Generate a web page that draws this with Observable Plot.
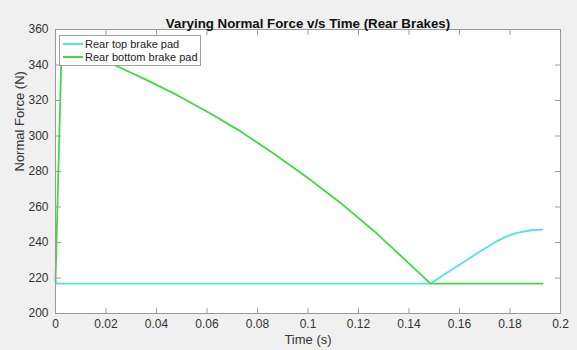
<!DOCTYPE html>
<html>
<head>
<meta charset="utf-8">
<script src="https://cdn.jsdelivr.net/npm/d3@7"></script>
<script src="https://cdn.jsdelivr.net/npm/@observablehq/plot@0.6"></script>
<style>
  html, body { margin: 0; padding: 0; background: #f0f0f0; }
  #wrap { position: relative; width: 577px; height: 350px; font-family: "Liberation Sans", Arial, sans-serif; }
  #legend {
    position: absolute; left: 59px; top: 35px; width: 140px; height: 29px;
    background: #fff; border: 1px solid #a0a0a0; font-size: 11px; color: #222;
  }
  #legend .row { position: absolute; left: 3px; height: 13px; line-height: 13px; white-space: nowrap; }
  #legend .swatch { display: inline-block; width: 20px; height: 0; border-top: 2px solid; vertical-align: middle; margin-right: 2px; position: relative; top: -1px; }
</style>
</head>
<body>
<div id="wrap">
  <div id="chart"></div>
  <div id="legend"></div>
</div>
<script>
// Time (s) and normal force (N) for each brake pad
const topPadTime  = [0, 0.0006, 0.1485, 0.155, 0.1617, 0.168, 0.1749, 0.1785, 0.1815, 0.1842, 0.1885, 0.1929];
const topPadForce = [218.3, 216.8, 216.8, 222.9, 229.0, 234.8, 240.8, 243.3, 244.9, 245.9, 246.9, 247.3];

const bottomPadTime  = [0, 0.00226, 0.0026, 0.012, 0.0238, 0.036, 0.0482, 0.061, 0.0733, 0.0865, 0.0997, 0.1129, 0.1261, 0.1366, 0.1485, 0.1929];
const bottomPadForce = [218.3, 340.8, 349.5, 345.6, 339.7, 331.6, 323.0, 313.0, 302.6, 290.0, 276.6, 262.3, 246.5, 232.7, 216.8, 216.8];

const seriesNames = ["Rear top brake pad", "Rear bottom brake pad"];
const seriesColors = ["#4fe6e2", "#3fdc3f"];

const xTicks = [0, 0.02, 0.04, 0.06, 0.08, 0.1, 0.12, 0.14, 0.16, 0.18, 0.2];
const xTickLabels = ["0", "0.02", "0.04", "0.06", "0.08", "0.1", "0.12", "0.14", "0.16", "0.18", "0.2"];
const yTicks = [200, 220, 240, 260, 280, 300, 320, 340, 360];
const yTickLabels = ["200", "220", "240", "260", "280", "300", "320", "340", "360"];

const titleText = "Varying Normal Force v/s Time (Rear Brakes)";
const xLabel = "Time (s)";
const yLabel = "Normal Force (N)";

const topPad = topPadTime.map((t, i) => ({t, f: topPadForce[i]}));
const bottomPad = bottomPadTime.map((t, i) => ({t, f: bottomPadForce[i]}));

// inward tick marks drawn as short vectors
const tickShape = {draw(ctx, l) { ctx.moveTo(0, 0); ctx.lineTo(0, -l); }};
const tickStyle = {length: 5, anchor: "start", shape: tickShape, stroke: "#9a9a9a", strokeWidth: 1};
const axisGrey = "#9a9a9a";

const chart = Plot.plot({
  width: 577,
  height: 350,
  marginLeft: 55,
  marginRight: 17,
  marginTop: 29,
  marginBottom: 37,
  style: {background: "#f0f0f0", fontFamily: "Liberation Sans, Arial, sans-serif"},
  x: {domain: [0, 0.2]},
  y: {domain: [200, 360]},
  marks: [
    Plot.frame({fill: "white", stroke: null}),
    Plot.line(topPad, {x: "t", y: "f", stroke: seriesColors[0], strokeWidth: 1.8}),
    Plot.line(bottomPad, {x: "t", y: "f", stroke: seriesColors[1], strokeWidth: 1.8}),
    Plot.frame({stroke: axisGrey}),
    Plot.vector(xTicks, {x: d => d, frameAnchor: "bottom", rotate: 0, ...tickStyle}),
    Plot.vector(xTicks, {x: d => d, frameAnchor: "top", rotate: 180, ...tickStyle}),
    Plot.vector(yTicks, {y: d => d, frameAnchor: "left", rotate: 90, ...tickStyle}),
    Plot.vector(yTicks, {y: d => d, frameAnchor: "right", rotate: -90, ...tickStyle}),
    Plot.axisX(xTicks, {
      tickSize: 0, tickPadding: 6, fontSize: 12, color: "#333", label: null,
      tickFormat: d => xTickLabels[xTicks.indexOf(d)]
    }),
    Plot.axisY(yTicks, {
      tickSize: 0, tickPadding: 7, fontSize: 12, color: "#333", label: null,
      tickFormat: d => yTickLabels[yTicks.indexOf(d)]
    }),
    Plot.text([titleText], {frameAnchor: "top", dy: -11, fontSize: 13.3, fontWeight: "bold", fill: "#111"}),
    Plot.text([xLabel], {frameAnchor: "bottom", dy: 30, fontSize: 13, fill: "#333"}),
    Plot.text([yLabel], {frameAnchor: "left", dx: -36, rotate: -90, fontSize: 13, fill: "#333"})
  ]
});
document.getElementById("chart").appendChild(chart);

// legend box
const legend = document.getElementById("legend");
seriesNames.forEach((name, i) => {
  const row = document.createElement("div");
  row.className = "row";
  row.style.top = (2 + i * 13) + "px";
  const sw = document.createElement("span");
  sw.className = "swatch";
  sw.style.borderColor = seriesColors[i];
  row.appendChild(sw);
  row.appendChild(document.createTextNode(name));
  legend.appendChild(row);
});
</script>
</body>
</html>
